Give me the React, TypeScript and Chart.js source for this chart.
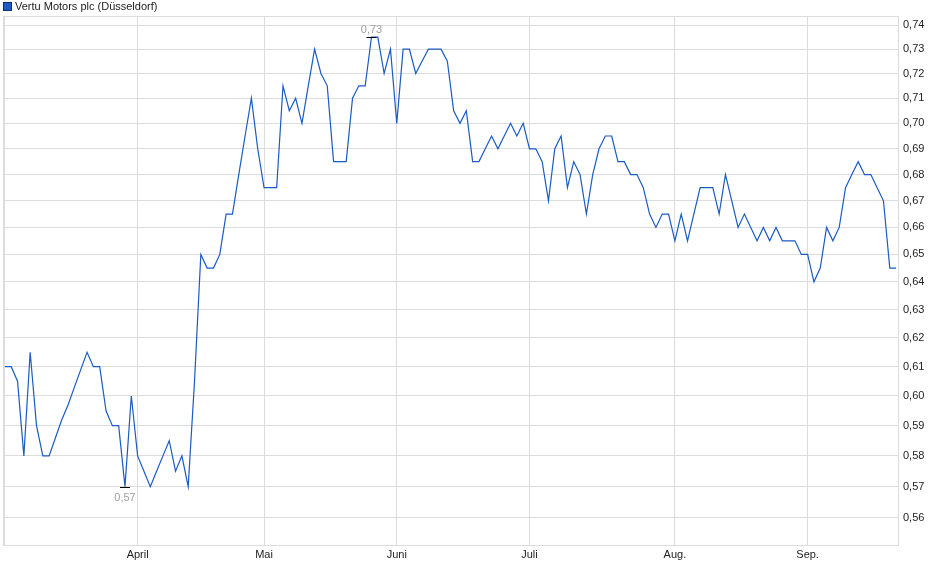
import React, { useEffect, useRef } from 'react';
import { Chart, registerables } from 'chart.js';

Chart.register(...registerables);

const SERIES_NAME = 'Vertu Motors plc (Düsseldorf)';
const FIRST_DAY = '2025-03-03';
const LAST_DAY = '2025-09-19';
const EXCHANGE_HOLIDAYS = ['2025-04-18', '2025-04-21', '2025-05-01'];
const MONTH_LABELS = ['Jan.', 'Feb.', '', 'April', 'Mai', 'Juni', 'Juli', 'Aug.', 'Sep.', 'Okt.', 'Nov.', 'Dez.'];

const MARCH = [0.61, 0.61, 0.605, 0.58, 0.615, 0.59, 0.58, 0.58, 0.586, 0.592, 0.597, 0.603, 0.609, 0.615, 0.61, 0.61, 0.595, 0.59, 0.59, 0.57, 0.6];
const APRIL = [0.58, 0.575, 0.57, 0.575, 0.58, 0.585, 0.575, 0.58, 0.57, 0.605, 0.65, 0.645, 0.645, 0.65, 0.665, 0.665, 0.68, 0.695, 0.71, 0.69];
const MAY = [0.675, 0.675, 0.675, 0.715, 0.705, 0.71, 0.7, 0.715, 0.73, 0.72, 0.715, 0.685, 0.685, 0.685, 0.71, 0.715, 0.715, 0.735, 0.735, 0.72, 0.73];
const JUNE = [0.7, 0.73, 0.73, 0.72, 0.725, 0.73, 0.73, 0.73, 0.725, 0.705, 0.7, 0.705, 0.685, 0.685, 0.69, 0.695, 0.69, 0.695, 0.7, 0.695, 0.7];
const JULY = [0.69, 0.69, 0.685, 0.67, 0.69, 0.695, 0.675, 0.685, 0.68, 0.665, 0.68, 0.69, 0.695, 0.695, 0.685, 0.685, 0.68, 0.68, 0.675, 0.665, 0.66, 0.665, 0.665];
const AUGUST = [0.655, 0.665, 0.655, 0.665, 0.675, 0.675, 0.675, 0.665, 0.68, 0.67, 0.66, 0.665, 0.66, 0.655, 0.66, 0.655, 0.66, 0.655, 0.655, 0.655, 0.65];
const SEPTEMBER = [0.65, 0.64, 0.645, 0.66, 0.655, 0.66, 0.675, 0.68, 0.685, 0.68, 0.68, 0.675, 0.67, 0.645, 0.645];

const Y_TICKS = [0.56, 0.57, 0.58, 0.59, 0.6, 0.61, 0.62, 0.63, 0.64, 0.65, 0.66, 0.67, 0.68, 0.69, 0.7, 0.71, 0.72, 0.73, 0.74];
const Y_MIN = 0.5515;
const Y_MAX = 0.7438;

const PRICES = [...MARCH, ...APRIL, ...MAY, ...JUNE, ...JULY, ...AUGUST, ...SEPTEMBER];

function tradingDays(): Date[] {
  const out: Date[] = [];
  const d = new Date(FIRST_DAY + 'T00:00:00Z');
  const end = new Date(LAST_DAY + 'T00:00:00Z');
  while (d <= end) {
    const wd = d.getUTCDay();
    const iso = d.toISOString().slice(0, 10);
    if (wd !== 0 && wd !== 6 && !EXCHANGE_HOLIDAYS.includes(iso)) out.push(new Date(d));
    d.setUTCDate(d.getUTCDate() + 1);
  }
  return out;
}

const FONT = '"Liberation Sans", Arial, sans-serif';
const LINE_COLOR = '#1a5bc4';
const GRID_COLOR = '#dcdcdc';

export default function App() {
  const ref = useRef<HTMLCanvasElement | null>(null);

  useEffect(() => {
    if (!ref.current) return;
    const days = tradingDays();
    const n = Math.min(days.length, PRICES.length);
    const data = PRICES.slice(0, n).map((v, i) => ({ x: i, y: v }));
    const monthTicks: { idx: number; label: string }[] = [];
    for (let i = 0; i < n; i++) {
      if (i === 0 || days[i].getUTCMonth() !== days[i - 1].getUTCMonth()) {
        monthTicks.push({ idx: i, label: i === 0 ? '' : MONTH_LABELS[days[i].getUTCMonth()] });
      }
    }

    const frame = {
      id: 'frame',
      beforeDatasetsDraw(chart: any) {
        const { ctx, chartArea: a } = chart;
        ctx.save();
        ctx.strokeStyle = GRID_COLOR;
        ctx.lineWidth = 1;
        ctx.strokeRect(Math.round(a.left) + 0.5, Math.round(a.top) + 0.5, Math.round(a.right - a.left), Math.round(a.bottom - a.top));
        ctx.restore();
      },
    };

    const extremes = {
      id: 'extremes',
      afterDatasetsDraw(chart: any) {
        const { ctx, scales } = chart;
        let maxI = 0, minI = 0;
        for (let i = 0; i < n; i++) {
          if (PRICES[i] > PRICES[maxI]) maxI = i;
          if (PRICES[i] < PRICES[minI]) minI = i;
        }
        const fmt = (v: number) => v.toFixed(2).replace('.', ',');
        ctx.save();
        ctx.font = `11px ${FONT}`;
        ctx.textAlign = 'center';
        ctx.strokeStyle = '#000';
        ctx.lineWidth = 1;
        const draw = (i: number, above: boolean) => {
          const x = scales.x.getPixelForValue(i);
          const y = Math.round(scales.y.getPixelForValue(PRICES[i])) + 0.5;
          ctx.beginPath();
          ctx.moveTo(x - 5, y);
          ctx.lineTo(x + 5, y);
          ctx.stroke();
          ctx.fillStyle = '#a0a0a0';
          ctx.textBaseline = 'middle';
          ctx.fillText(fmt(PRICES[i]), x, above ? y - 8 : y + 10);
        };
        draw(maxI, true);
        draw(minI, false);
        ctx.restore();
      },
    };

    const legendBox = {
      id: 'legendBox',
      afterDraw(chart: any) {
        const { ctx } = chart;
        ctx.save();
        ctx.fillStyle = LINE_COLOR;
        ctx.fillRect(3, 2, 9, 9);
        ctx.strokeStyle = '#0d2f6e';
        ctx.lineWidth = 1;
        ctx.strokeRect(3.5, 2.5, 8, 8);
        ctx.fillStyle = '#222';
        ctx.font = `11px ${FONT}`;
        ctx.textBaseline = 'middle';
        ctx.textAlign = 'left';
        ctx.fillText(SERIES_NAME, 15, 7);
        ctx.restore();
      },
    };

    const chart = new Chart(ref.current, {
      type: 'line',
      data: {
        datasets: [
          {
            label: SERIES_NAME,
            data,
            borderColor: LINE_COLOR,
            backgroundColor: LINE_COLOR,
            borderWidth: 1.2,
            pointRadius: 0,
            tension: 0,
            fill: false,
          },
        ],
      },
      options: {
        responsive: false,
        animation: false,
        layout: { padding: { left: 3, top: 16, right: 0, bottom: 0 } },
        plugins: { legend: { display: false }, tooltip: { enabled: false } },
        scales: {
          x: {
            type: 'linear',
            position: 'bottom',
            bounds: 'data',
            min: -0.3,
            max: n - 1 + 0.3,
            afterBuildTicks: (scale: any) => {
              scale.ticks = monthTicks.map((t) => ({ value: t.idx }));
            },
            afterFit: (scale: any) => {
              scale.height = 34;
            },
            ticks: {
              autoSkip: false,
              maxRotation: 0,
              padding: 3,
              color: '#222',
              font: { family: FONT, size: 11 },
              callback: (v: any) => {
                const t = monthTicks.find((m) => m.idx === v);
                return t ? t.label : '';
              },
            },
            grid: { color: GRID_COLOR, drawTicks: false, lineWidth: 1 },
            border: { display: false },
          },
          y: {
            type: 'logarithmic',
            position: 'right',
            bounds: 'data',
            min: Y_MIN,
            max: Y_MAX,
            afterDataLimits: (scale: any) => {
              scale.min = Y_MIN;
              scale.max = Y_MAX;
            },
            afterBuildTicks: (scale: any) => {
              scale.ticks = Y_TICKS.map((v) => ({ value: v }));
              scale.min = Y_MIN;
              scale.max = Y_MAX;
            },
            afterFit: (scale: any) => {
              scale.width = 42;
            },
            ticks: {
              autoSkip: false,
              padding: 5,
              color: '#222',
              font: { family: FONT, size: 11 },
              callback: (v: any) => Number(v).toFixed(2).replace('.', ','),
            },
            grid: { color: GRID_COLOR, drawTicks: false, lineWidth: 1 },
            border: { display: false },
          },
        },
      },
      plugins: [frame, extremes, legendBox],
    } as any);

    return () => chart.destroy();
  }, []);

  return (
    <div style={{ position: 'fixed', left: 0, top: 0, width: 940, height: 579, background: '#fff' }}>
      <canvas ref={ref} width={940} height={579} style={{ display: 'block', width: 940, height: 579 }} />
    </div>
  );
}
